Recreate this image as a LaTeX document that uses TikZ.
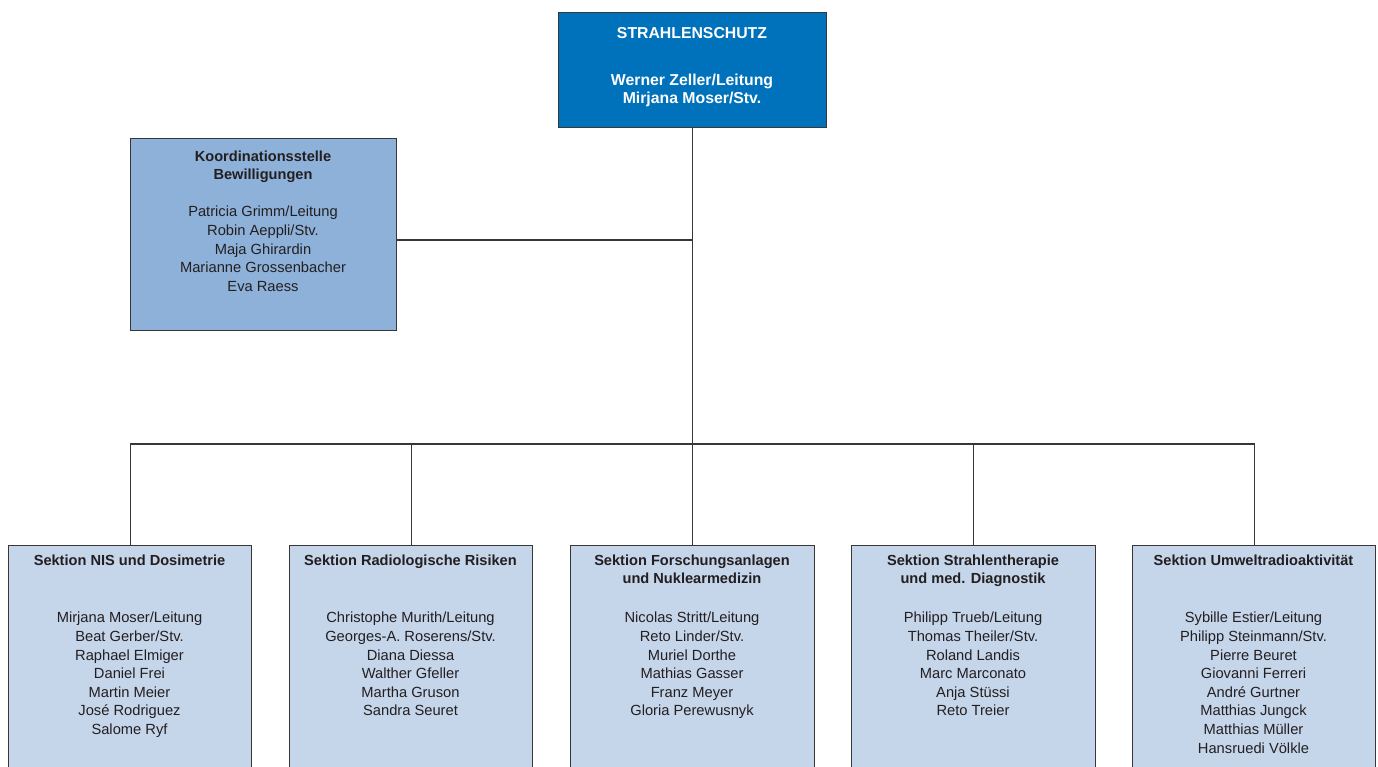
\documentclass[tikz,border=0pt]{standalone}
\usepackage{fontspec}
\setmainfont{Liberation Sans}
\definecolor{topblue}{RGB}{0,114,188}
\definecolor{midblue}{RGB}{142,177,217}
\definecolor{lightblue}{RGB}{197,213,234}
\definecolor{ink}{RGB}{35,31,32}
\definecolor{linegray}{RGB}{55,55,55}
\begin{document}
\begin{tikzpicture}[x=1pt,y=-1pt,
  box/.style={draw=linegray,line width=1.3pt,rectangle,anchor=north west,inner sep=0pt},
  conn/.style={draw=linegray,line width=1.3pt},
  ttl/.style={font=\fontsize{14.6}{18}\selectfont\bfseries,text=ink,align=center,anchor=north,inner sep=0pt},
  nms/.style={font=\fontsize{14.7}{18.6}\selectfont,text=ink,align=center,anchor=north,inner sep=0pt},
  wht/.style={font=\fontsize{15.8}{17.6}\selectfont\bfseries,text=white,align=center,anchor=north,inner sep=0pt}]
\useasboundingbox (0,0) rectangle (1378,767);
\clip (0,0) rectangle (1378,767);
\fill[white] (0,0) rectangle (1378,767);
% boxes
\node[box,fill=topblue,minimum width=268pt,minimum height=115pt] (top) at (558,12) {};
\node[box,fill=midblue,minimum width=266pt,minimum height=192pt] (koord) at (130,138) {};
\node[box,fill=lightblue,minimum width=243pt,minimum height=260pt] (s1) at (8,545) {};
\node[box,fill=lightblue,minimum width=243pt,minimum height=260pt] (s2) at (289,545) {};
\node[box,fill=lightblue,minimum width=244pt,minimum height=260pt] (s3) at (570,545) {};
\node[box,fill=lightblue,minimum width=244pt,minimum height=260pt] (s4) at (851,545) {};
\node[box,fill=lightblue,minimum width=243pt,minimum height=260pt] (s5) at (1132,545) {};
% connectors
\coordinate (bus) at (692,444);
\coordinate (kj) at (692,240);
\draw[conn] (top.south) -- (s3.north);
\draw[conn] (kj -| koord.east) -- (kj);
\draw[conn] (s1.north) |- (bus) -| (s5.north);
\draw[conn] (s2.north) -- (s2.north |- bus);
\draw[conn] (s4.north) -- (s4.north |- bus);
% texts
\node[wht] (t0) at (692,27) {STRAHLENSCHUTZ};
\node[wht] (t0b) at (692,74.2) {Werner Zeller/Leitung\\Mirjana Moser/Stv.};
\node[ttl] (k0) at (263,151) {Koordinationsstelle\\Bewilligungen};
\node[nms] (k1) at (263,206) {Patricia Grimm/Leitung\\Robin Aeppli/Stv.\\Maja Ghirardin\\Marianne Grossenbacher\\Eva Raess};
\node[ttl] (a0) at (129.5,555) {Sektion NIS und Dosimetrie};
\node[nms] (a1) at (129.5,612) {Mirjana Moser/Leitung\\Beat Gerber/Stv.\\Raphael Elmiger\\Daniel Frei\\Martin Meier\\José Rodriguez\\Salome Ryf};
\node[ttl] (b0) at (410.5,555) {Sektion Radiologische Risiken};
\node[nms] (b1) at (410.5,612) {Christophe Murith/Leitung\\Georges-A. Roserens/Stv.\\Diana Diessa\\Walther Gfeller\\Martha Gruson\\Sandra Seuret};
\node[ttl] (c0) at (692,555) {Sektion Forschungsanlagen\\und Nuklearmedizin};
\node[nms] (c1) at (692,612) {Nicolas Stritt/Leitung\\Reto Linder/Stv.\\Muriel Dorthe\\Mathias Gasser\\Franz Meyer\\Gloria Perewusnyk};
\node[ttl] (d0) at (973,555) {Sektion Strahlentherapie\\und med. Diagnostik};
\node[nms] (d1) at (973,612) {Philipp Trueb/Leitung\\Thomas Theiler/Stv.\\Roland Landis\\Marc Marconato\\Anja Stüssi\\Reto Treier};
\node[ttl] (e0) at (1253.5,555) {Sektion Umweltradioaktivität};
\node[nms] (e1) at (1253.5,612) {Sybille Estier/Leitung\\Philipp Steinmann/Stv.\\Pierre Beuret\\Giovanni Ferreri\\André Gurtner\\Matthias Jungck\\Matthias Müller\\Hansruedi Völkle};
\end{tikzpicture}
\end{document}
